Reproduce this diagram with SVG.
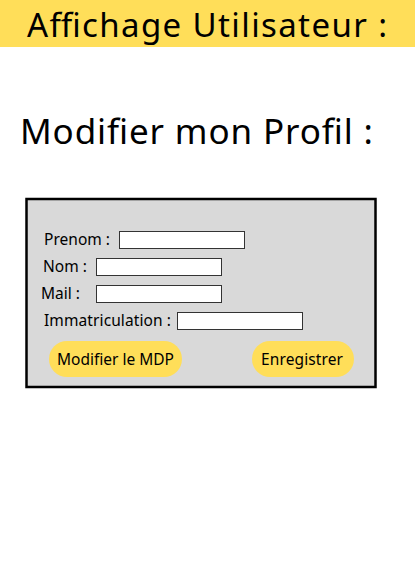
<svg xmlns="http://www.w3.org/2000/svg" width="415" height="587" viewBox="0 0 415 587">
<style>
text{font-family:"Noto Sans","Open Sans",sans-serif;fill:#000}
.lbl{font-size:15.5px}
.field{fill:#fff;stroke:#333;stroke-width:1}
.btn{fill:#FFDE59}
.btnt{font-size:15.5px;text-anchor:middle}
</style>
<rect width="415" height="587" fill="#fff"/>
<g id="header">
<rect x="0" y="0" width="415" height="47" fill="#FFDE59"/>
<text x="207" y="37" font-size="33" text-anchor="middle" textLength="360">Affichage Utilisateur :</text>
</g>
<g id="title">
<text x="20" y="144" font-size="35" textLength="353">Modifier mon Profil :</text>
</g>
<g id="form">
<rect x="26.5" y="199" width="349" height="188" fill="#D9D9D9" stroke="#000" stroke-width="2.5"/>
</g>
<g id="prenom">
<text class="lbl" x="44" y="245" textLength="66">Prenom :</text>
<rect class="field" x="119.5" y="231.5" width="125" height="17"/>
</g>
<g id="nom">
<text class="lbl" x="43" y="272" textLength="44">Nom :</text>
<rect class="field" x="96.5" y="258.5" width="125" height="17"/>
</g>
<g id="mail">
<text class="lbl" x="41" y="299" textLength="39">Mail :</text>
<rect class="field" x="96.5" y="285.5" width="125" height="17"/>
</g>
<g id="immatriculation">
<text class="lbl" x="44" y="326" textLength="127">Immatriculation :</text>
<rect class="field" x="177.5" y="312.5" width="125" height="17"/>
</g>
<g id="btn-mdp">
<rect class="btn" x="49" y="341" width="133" height="36" rx="18"/>
<text class="btnt" x="115.5" y="364.5" textLength="117">Modifier le MDP</text>
</g>
<g id="btn-enregistrer">
<rect class="btn" x="252" y="341" width="102" height="36" rx="18"/>
<text class="btnt" x="302" y="364.5" textLength="82">Enregistrer</text>
</g>
<g id="connectors"/>
</svg>
